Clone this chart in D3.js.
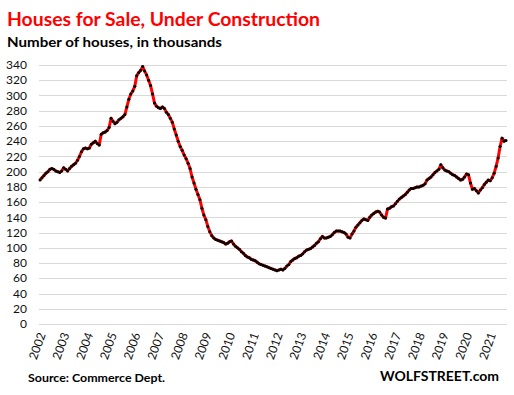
<!DOCTYPE html>
<meta charset="utf-8">
<head>
    <title>Houses for Sale, Under Construction</title>
    <script src="https://d3js.org/d3.v7.min.js"></script>
    <style>
        body { margin: 0; background: #fff; }
        text { font-family: Lato, "Open Sans", sans-serif; }
    </style>
</head>
<body>
<svg width="514" height="395"></svg>
<script>

// monthly, Jan 2002 - Sep 2021, thousands of houses
var values2002_2006 = [
    189, 192, 195, 198, 200, 203, 204, 203, 201, 200, 199, 201,   // 2002
    205, 203, 201, 204, 207, 209, 211, 215, 220, 226, 230, 231,   // 2003
    230, 231, 236, 238, 240, 237, 235, 249, 251, 252, 254, 258,   // 2004
    270, 266, 263, 265, 268, 270, 272, 275, 285, 295, 302, 306,   // 2005
    312, 326, 330, 333, 338, 332, 327, 320, 313, 302, 290, 286    // 2006
];
var values2007_2011 = [
    284, 283, 285, 283, 278, 275, 270, 265, 256, 248, 240, 233,   // 2007
    228, 222, 217, 211, 204, 193, 185, 177, 170, 163, 152, 143,   // 2008
    137, 128, 121, 116, 113, 111, 110, 109, 108, 107, 105, 106,   // 2009
    108, 109, 105, 102, 100, 98, 95, 93, 90, 88, 87, 85,          // 2010
    84, 83, 81, 79, 78, 77, 76, 75, 74, 73, 72, 71                // 2011
];
var values2012_2016 = [
    70, 71, 72, 71, 73, 76, 78, 82, 84, 86, 87, 89,               // 2012
    90, 92, 95, 97, 98, 99, 101, 103, 106, 108, 112, 115,         // 2013
    113, 113, 114, 115, 117, 120, 122, 122, 122, 121, 120, 118,   // 2014
    114, 113, 118, 122, 127, 130, 133, 136, 138, 137, 136, 140,   // 2015
    143, 145, 147, 148, 147, 143, 140, 139, 151, 152, 154, 155    // 2016
];
var values2017_2021 = [
    158, 161, 164, 166, 168, 170, 173, 176, 178, 178, 179, 180,   // 2017
    180, 181, 182, 184, 189, 191, 193, 196, 199, 201, 203, 209,   // 2018
    205, 202, 201, 200, 198, 196, 195, 193, 191, 189, 190, 193,   // 2019
    197, 196, 185, 177, 178, 175, 172, 176, 179, 183, 186, 189,   // 2020
    188, 192, 198, 207, 218, 233, 244, 240, 241                   // 2021
];
var values = values2002_2006.concat(values2007_2011, values2012_2016, values2017_2021);

var yearLabels = ["2002", "2003", "2004", "2005", "2006", "2007", "2008", "2009", "2010", "2011",
                  "2012", "2013", "2014", "2015", "2016", "2017", "2018", "2019", "2020", "2021"];
var yTicks = d3.range(0, 341, 20);

var svg = d3.select("svg"),
    margin = {top: 65, right: 7, bottom: 71, left: 39},
    width = +svg.attr("width") - margin.left - margin.right,
    height = +svg.attr("height") - margin.top - margin.bottom;

svg.append("rect").attr("width", 514).attr("height", 395).attr("fill", "#fff");

var x = d3.scalePoint()
    .domain(d3.range(values.length))
    .range([margin.left, margin.left + width])
    .padding(0.5);

var y = d3.scaleLinear()
    .domain([0, 340])
    .range([margin.top + height, margin.top]);

// gridlines
svg.append("g")
    .selectAll("line")
    .data(yTicks)
    .enter().append("line")
    .attr("x1", margin.left)
    .attr("x2", margin.left + width)
    .attr("y1", function(d) { return Math.round(y(d)) + 0.5; })
    .attr("y2", function(d) { return Math.round(y(d)) + 0.5; })
    .attr("stroke", "#d9d9d9")
    .attr("stroke-width", 1);

// y labels
svg.append("g")
    .selectAll("text")
    .data(yTicks)
    .enter().append("text")
    .attr("x", 27)
    .attr("y", function(d) { return y(d); })
    .attr("dy", "0.35em")
    .attr("text-anchor", "end")
    .attr("font-size", 12)
    .attr("fill", "#111")
    .text(function(d) { return d; });

// x labels, one per January
svg.append("g")
    .selectAll("text")
    .data(yearLabels)
    .enter().append("text")
    .attr("text-anchor", "end")
    .attr("font-size", 12)
    .attr("fill", "#111")
    .attr("transform", function(d, i) {
        return "translate(" + (x(i * 12) + 2) + ",333) rotate(-70)";
    })
    .attr("dy", "0.35em")
    .text(function(d) { return d; });

// the series
var line = d3.line()
    .x(function(d, i) { return x(i); })
    .y(function(d) { return y(d); });

svg.append("path")
    .datum(values)
    .attr("fill", "none")
    .attr("stroke", "#ff0000")
    .attr("stroke-width", 3)
    .attr("stroke-linejoin", "round")
    .attr("d", line);

svg.append("g")
    .selectAll("circle")
    .data(values)
    .enter().append("circle")
    .attr("cx", function(d, i) { return x(i); })
    .attr("cy", function(d) { return y(d); })
    .attr("r", 1.5)
    .attr("fill", "#000");

// titles
svg.append("text")
    .attr("x", 7)
    .attr("y", 26)
    .attr("font-size", 19)
    .attr("font-weight", "bold")
    .attr("fill", "#ff0000")
    .attr("textLength", 313)
    .attr("lengthAdjust", "spacingAndGlyphs")
    .text("Houses for Sale, Under Construction");

svg.append("text")
    .attr("x", 7)
    .attr("y", 47)
    .attr("font-size", 14)
    .attr("font-weight", "bold")
    .attr("fill", "#000")
    .attr("textLength", 215)
    .attr("lengthAdjust", "spacingAndGlyphs")
    .text("Number of houses, in thousands");

svg.append("text")
    .attr("x", 28)
    .attr("y", 382)
    .attr("font-size", 12)
    .attr("font-weight", "bold")
    .attr("fill", "#000")
    .attr("textLength", 137)
    .attr("lengthAdjust", "spacingAndGlyphs")
    .text("Source: Commerce Dept.");

svg.append("text")
    .attr("x", 380)
    .attr("y", 381)
    .attr("font-size", 14)
    .attr("font-weight", "bold")
    .attr("fill", "#000")
    .attr("textLength", 119)
    .attr("lengthAdjust", "spacingAndGlyphs")
    .text("WOLFSTREET.com");

</script>
</body>
